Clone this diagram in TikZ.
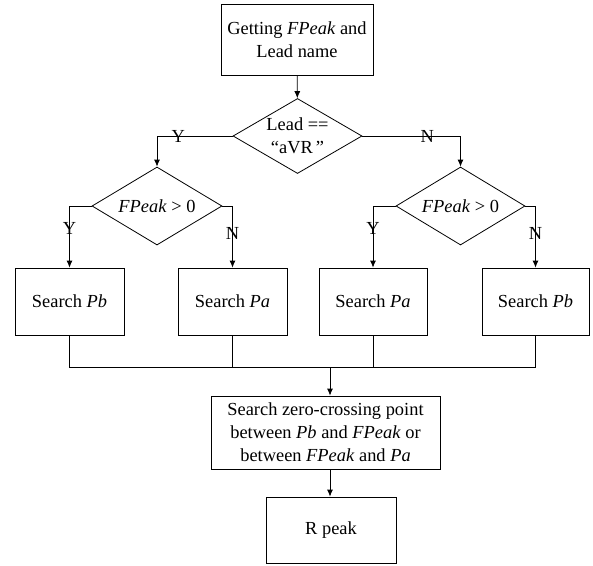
\documentclass[tikz,border=0pt]{standalone}
\usepackage{fontspec}
\setmainfont{Liberation Serif}
\usetikzlibrary{arrows.meta,shapes.geometric}
\begin{document}
\begin{tikzpicture}[x=1pt,y=-1pt,
  every node/.style={font=\fontsize{18.4}{23}\selectfont},
  box/.style={draw,line width=0.8pt,rectangle,inner sep=0pt,align=center},
  dia/.style={draw,line width=0.8pt,diamond,inner sep=0pt},
  txt/.style={inner sep=0pt,align=center},
  lbl/.style={inner sep=0pt},
  arr/.style={line width=0.8pt,-{Latex[length=7pt,width=6pt]}},
  ln/.style={line width=0.8pt}]
\useasboundingbox (0,0) rectangle (593,565);
\node[box,minimum width=152pt,minimum height=71pt] (top) at (297,39.5) {Getting \textit{FPeak} and\\Lead name};
\node[dia,minimum width=129pt,minimum height=75pt] (d1) at (297.5,136) {};
\node[txt] (d1t) at (d1) {Lead ==\\“aVR\,”};
\node[dia,minimum width=130pt,minimum height=78pt] (d2) at (157,206) {};
\node[txt] (d2t) at (d2) {\textit{FPeak} > 0};
\node[dia,minimum width=129pt,minimum height=78pt] (d3) at (460.5,206) {};
\node[txt] (d3t) at (d3) {\textit{FPeak} > 0};
\node[box,minimum width=109pt,minimum height=67pt] (b1) at (69.5,301.5) {Search \textit{Pb}};
\node[box,minimum width=109pt,minimum height=67pt] (b2) at (232.5,301.5) {Search \textit{Pa}};
\node[box,minimum width=108pt,minimum height=67pt] (b3) at (373,301.5) {Search \textit{Pa}};
\node[box,minimum width=107pt,minimum height=67pt] (b4) at (535.5,301.5) {Search \textit{Pb}};
\node[box,minimum width=229pt,minimum height=73pt] (zc) at (325.5,432.5) {Search zero-crossing point\\between \textit{Pb} and \textit{FPeak} or\\between \textit{FPeak} and \textit{Pa}};
\node[box,minimum width=130pt,minimum height=66pt] (rp) at (331,530) {R peak};
\coordinate (m) at (330,367);
\draw[arr] (top) -- (d1);
\draw[arr] (d1.west) -| node[lbl,pos=0.36] {Y} (d2.north);
\draw[arr] (d1.east) -| node[lbl,pos=0.33] {N} (d3.north);
\draw[arr] (d2.west) -| node[lbl,pos=0.68] {Y} (b1.north);
\draw[arr] (d2.east) -| node[lbl,pos=0.72] {N} (b2.north);
\draw[arr] (d3.west) -| node[lbl,pos=0.68] {Y} (b3.north);
\draw[arr] (d3.east) -| node[lbl,pos=0.72] {N} (b4.north);
\draw[ln] (b1.south) -- (b1.south |- m) -- (b4.south |- m) -- (b4.south);
\draw[ln] (b2.south) -- (b2.south |- m);
\draw[ln] (b3.south) -- (b3.south |- m);
\draw[arr] (m) -- (m |- zc.north);
\draw[arr] (m |- zc.south) -- (m |- rp.north);
\end{tikzpicture}
\end{document}
